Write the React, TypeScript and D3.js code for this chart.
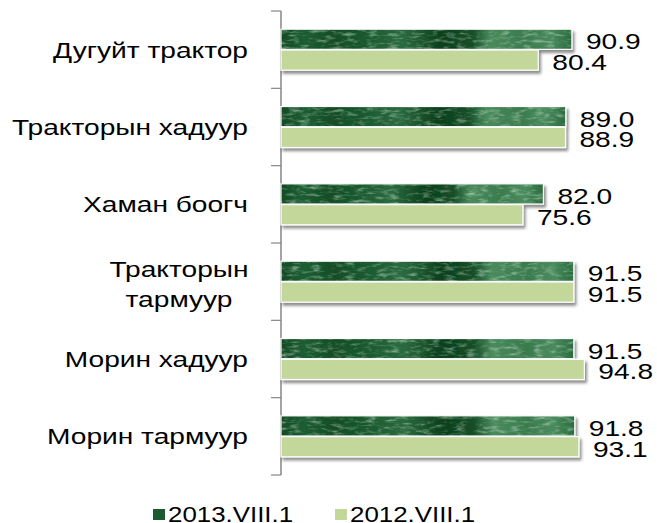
import React from "react";
import * as d3 from "d3";

const categories = [
  ["Дугуйт трактор"],
  ["Тракторын хадуур"],
  ["Хаман боогч"],
  ["Тракторын", "тармуур"],
  ["Морин хадуур"],
  ["Морин тармуур"],
];
const categoryKeys = ["c1", "c2", "c3", "c4", "c5", "c6"];
const series2013 = [90.9, 89.0, 82.0, 91.5, 91.5, 91.8];
const series2012 = [80.4, 88.9, 75.6, 91.5, 94.8, 93.1];
const seriesNames = ["2013.VIII.1", "2012.VIII.1"];

const W = 657;
const H = 523;
const FONT = "'Liberation Sans', Arial, sans-serif";
const FS = 22.5;
const SX = 1.25;

function Txt(props: {
  x: number;
  y: number;
  anchor?: "start" | "middle" | "end";
  sx?: number;
  children: React.ReactNode;
}) {
  const sx = props.sx ?? SX;
  return (
    <text
      transform={`translate(${props.x},${props.y}) scale(${sx},1)`}
      textAnchor={props.anchor ?? "start"}
      fontFamily={FONT}
      fontSize={FS}
      fill="#000"
    >
      {props.children}
    </text>
  );
}

export default function App() {
  const x = d3.scaleLinear().domain([0, 100]).range([281, 601]);
  const y = d3
    .scaleBand<string>()
    .domain(categoryKeys)
    .range([11, 475])
    .paddingInner(0.47)
    .paddingOuter(0.235);
  const sub = d3
    .scaleBand<number>()
    .domain([0, 1])
    .range([0, y.bandwidth()])
    .paddingInner(0.03);
  const step = y.step();
  const data = [series2013, series2012];

  return (
    <div style={{ position: "absolute", left: 0, top: 0 }}>
      <svg width={W} height={H} style={{ display: "block" }}>
        <defs>
          <linearGradient id="darkTex" x1="0" x2="1" y1="0" y2="0">
            <stop offset="0" stopColor="#114a25" />
            <stop offset="0.08" stopColor="#1f5d33" />
            <stop offset="0.18" stopColor="#134d27" />
            <stop offset="0.3" stopColor="#1c5a30" />
            <stop offset="0.42" stopColor="#2c6a3f" />
            <stop offset="0.55" stopColor="#0b3f1c" />
            <stop offset="0.66" stopColor="#174f29" />
            <stop offset="0.72" stopColor="#4a8a5c" />
            <stop offset="0.84" stopColor="#3a7a4d" />
            <stop offset="0.93" stopColor="#4b8b5e" />
            <stop offset="1" stopColor="#2a6a3c" />
          </linearGradient>
          <filter id="noise" x="0" y="0" width="1" height="1">
            <feTurbulence type="fractalNoise" baseFrequency="0.09 0.3" numOctaves="3" seed="4" result="t" />
            <feColorMatrix
              in="t"
              type="matrix"
              values="0 0 0 0 0.7  0 0 0 0 0.92  0 0 0 0 0.76  2.4 0 0 0 -1.15"
              result="c"
            />
            <feComposite in="c" in2="SourceAlpha" operator="in" />
          </filter>
          <filter id="shadow" x="-5%" y="-30%" width="115%" height="180%">
            <feDropShadow dx="2" dy="3" stdDeviation="1.6" floodColor="#000" floodOpacity="0.45" />
          </filter>
        </defs>

        {/* axis */}
        <line x1={281} x2={281} y1={11} y2={475} stroke="#868686" strokeWidth={1.5} />
        {d3.range(categoryKeys.length + 1).map((i) => (
          <line
            key={i}
            x1={271}
            x2={281}
            y1={11 + i * step}
            y2={11 + i * step}
            stroke="#868686"
            strokeWidth={1.2}
          />
        ))}

        {/* bars */}
        {categoryKeys.map((k, ci) => {
          const y0 = y(k)!;
          const cy = y0 + y.bandwidth() / 2;
          const lines = categories[ci];
          return (
            <g key={k}>
              <g filter="url(#shadow)">
                {[1, 0].map((si) => (
                  <rect
                    key={si}
                    x={x(0)}
                    y={y0 + sub(si)!}
                    width={x(data[si][ci]) - x(0)}
                    height={sub.bandwidth()}
                    fill={si === 0 ? "url(#darkTex)" : "#c4d79b"}
                    stroke="#ffffff"
                    strokeWidth={1.2}
                  />
                ))}
              </g>
              <rect
                x={x(0)}
                y={y0 + sub(0)!}
                width={x(data[0][ci]) - x(0)}
                height={sub.bandwidth()}
                fill="#fff"
                filter="url(#noise)"
                opacity={0.5}
              />
              {[0, 1].map((si) => (
                <Txt
                  key={"v" + si}
                  x={x(data[si][ci]) + 14}
                  y={y0 + sub(si)! + sub.bandwidth() / 2 + 10}
                >
                  {data[si][ci].toFixed(1)}
                </Txt>
              ))}
              {lines.length === 1 ? (
                <Txt x={248} y={cy + 8} anchor="end">
                  {lines[0]}
                </Txt>
              ) : (
                lines.map((ln, li) => (
                  <Txt
                    key={li}
                    x={179}
                    y={cy + 10 + (li - (lines.length - 1) / 2) * 30}
                    anchor="middle"
                  >
                    {ln}
                  </Txt>
                ))
              )}
            </g>
          );
        })}

        {/* legend */}
        {seriesNames.map((nm, i) => {
          const lx = i === 0 ? 153 : 335;
          return (
            <g key={nm}>
              <rect
                x={lx}
                y={509}
                width={12}
                height={11}
                fill={i === 0 ? "#1d5a30" : "#c4d79b"}
              />
              <Txt x={lx + 15} y={522} sx={1.15}>
                {nm}
              </Txt>
            </g>
          );
        })}
      </svg>
    </div>
  );
}
